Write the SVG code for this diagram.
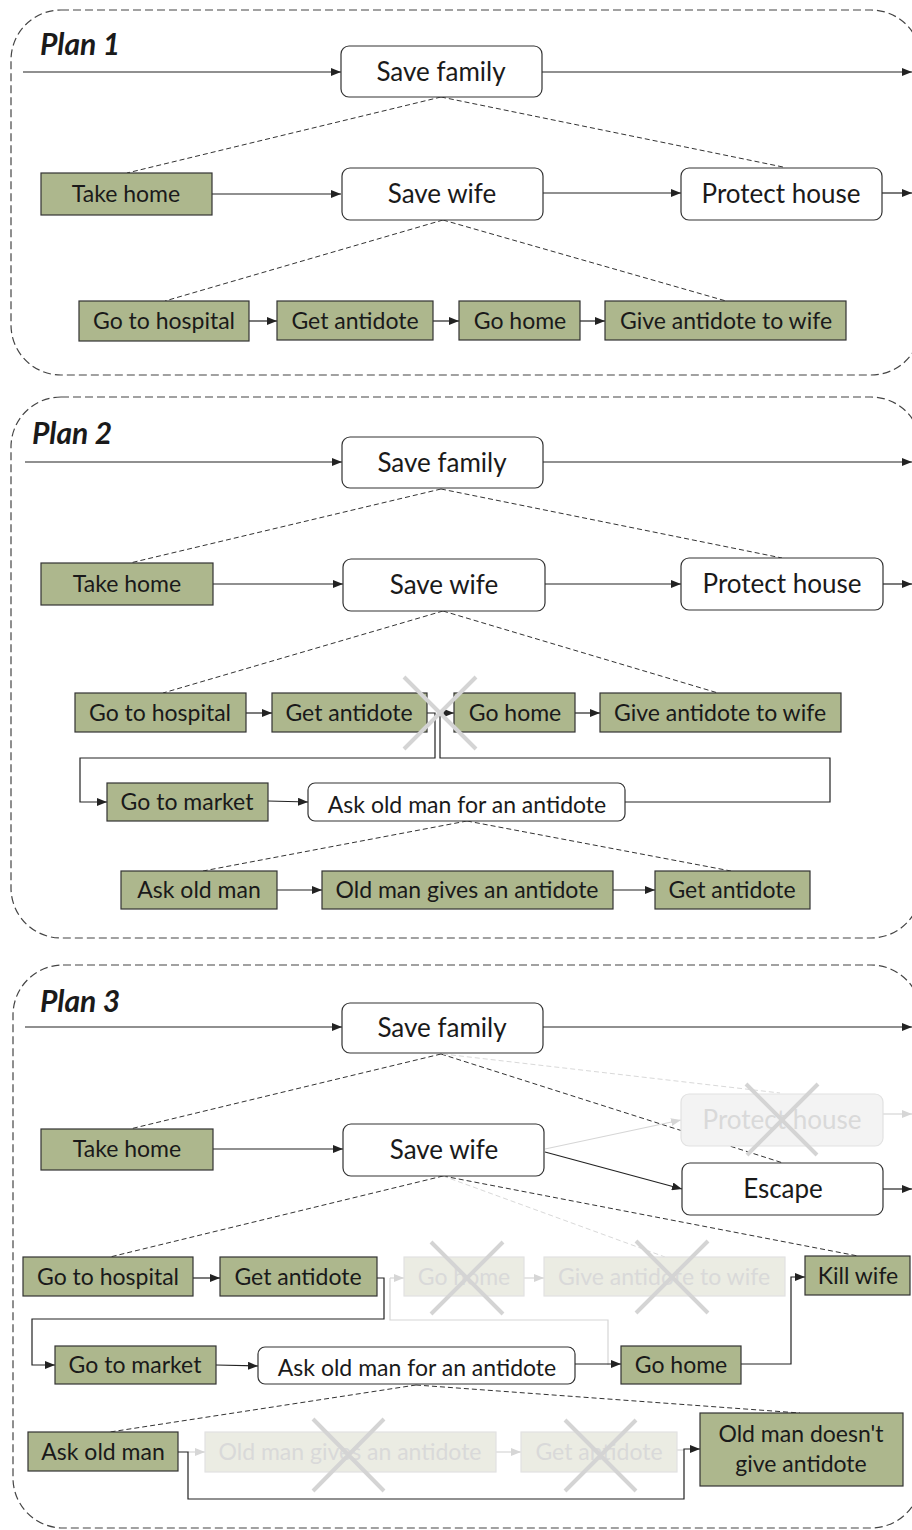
<svg xmlns="http://www.w3.org/2000/svg" width="912" height="1530" viewBox="0 0 912 1530">
<defs>
<marker id="ah" markerWidth="10" markerHeight="8" refX="10" refY="4" orient="auto" markerUnits="userSpaceOnUse"><path d="M0,0 L10,4 L0,8 z" fill="#222"/></marker>
<marker id="ahf" markerWidth="10" markerHeight="8" refX="10" refY="4" orient="auto" markerUnits="userSpaceOnUse"><path d="M0,0 L10,4 L0,8 z" fill="#d6d6d6"/></marker>
<style>
.plan{fill:none;stroke:#444;stroke-width:1.2;stroke-dasharray:8 4}
.title{font-family:Lato,"Open Sans",sans-serif;font-weight:bold;font-style:italic;font-size:30px;fill:#1a1a1a}
.w{fill:#fff;stroke:#333;stroke-width:1.2}
.g{fill:#adb78d;stroke:#333;stroke-width:1.2}
.fw{fill:#f3f3f3;stroke:#e2e2e2;stroke-width:1.2}
.fg{fill:#ebece3;stroke:#e2e2e2;stroke-width:1.2}
.t{font-family:Lato,"Open Sans",sans-serif;font-size:26px;fill:#1a1a1a;text-anchor:middle}
.ts{font-family:Lato,"Open Sans",sans-serif;font-size:23px;fill:#1a1a1a;text-anchor:middle}
.tf{font-family:Lato,"Open Sans",sans-serif;font-size:23px;fill:#d9d9d9;text-anchor:middle}
.c{fill:none;stroke:#222;stroke-width:1.2}
.ca{fill:none;stroke:#222;stroke-width:1.2;marker-end:url(#ah)}
.cf{fill:none;stroke:#d6d6d6;stroke-width:1.2}
.cfa{fill:none;stroke:#d6d6d6;stroke-width:1.2;marker-end:url(#ahf)}
.d{fill:none;stroke:#333;stroke-width:1;stroke-dasharray:5 3}
.df{fill:none;stroke:#d9d9d9;stroke-width:1;stroke-dasharray:5 3}
.x{stroke:#d4d4d4;stroke-width:4;fill:none}
</style>
</defs>

<!-- Plan frames -->
<g id="plan1-frame"><rect class="plan" x="11" y="10" width="910" height="365" rx="50"/><text class="title" x="40" y="55">Plan 1</text></g>
<g id="plan2-frame"><rect class="plan" x="11" y="397" width="910" height="541" rx="50"/><text class="title" x="32" y="444">Plan 2</text></g>
<g id="plan3-frame"><rect class="plan" x="13" y="965" width="908" height="563" rx="50"/><text class="title" x="40" y="1012">Plan 3</text></g>

<g id="connectors">
<!-- Plan 1 -->
<path class="ca" d="M23,72 H341"/>
<path class="ca" d="M542,72 H912"/>
<path class="d" d="M441,97 L127,173 M441,97 L783,167"/>
<path class="ca" d="M212,194 H341"/>
<path class="ca" d="M543,193 H681"/>
<path class="ca" d="M882,193 H912"/>
<path class="d" d="M443,220 L165,301 M443,220 L726,301"/>
<path class="ca" d="M249,321 H277"/>
<path class="ca" d="M433,321 H459"/>
<path class="ca" d="M580,321 H605"/>
<!-- Plan 2 -->
<path class="ca" d="M25,462 H342"/>
<path class="ca" d="M543,462 H912"/>
<path class="d" d="M441,489 L130,563 M441,489 L782,558"/>
<path class="ca" d="M213,584 H343"/>
<path class="ca" d="M545,584 H681"/>
<path class="ca" d="M883,584 H912"/>
<path class="d" d="M443,611 L163,693 M443,611 L718,693"/>
<path class="ca" d="M246,713 H272"/>
<path class="ca" d="M575,713 H600"/>
<path class="ca" d="M427,713 H435 V758 H80 V802 H107"/>
<path class="ca" d="M625,802 H830 V758 H440 V713 H454"/>
<path class="ca" d="M268,801 L308,802"/>
<path class="d" d="M467,821 L203,871 M467,821 L731,871"/>
<path class="ca" d="M277,890 H322"/>
<path class="ca" d="M613,890 H655"/>
<!-- Plan 3 -->
<path class="ca" d="M25,1027 H342"/>
<path class="ca" d="M543,1027 H912"/>
<path class="d" d="M441,1054 L130,1129 M441,1054 L783,1163"/>
<path class="df" d="M443,1054 L780,1093"/>
<path class="ca" d="M213,1149 H343"/>
<path class="cfa" d="M545,1149 L681,1120"/>
<path class="cfa" d="M883,1114 H912"/>
<path class="ca" d="M545,1152 L682,1189"/>
<path class="ca" d="M883,1189 H912"/>
<path class="d" d="M443,1176 L110,1257 M443,1176 L858,1256"/>
<path class="df" d="M443,1176 L665,1257"/>
<path class="ca" d="M193,1278 H220"/>
<path class="cfa" d="M524,1278 H544"/>
<path class="cf" d="M608,1365 V1320 H390 V1278"/>
<path class="cfa" d="M390,1278 H404"/>
<path class="ca" d="M377,1278 H384 V1319 H32 V1365 H55"/>
<path class="ca" d="M216,1365 L258,1366"/>
<path class="ca" d="M575,1364 H621"/>
<path class="ca" d="M741,1364 H791 V1277 H805"/>
<path class="d" d="M416,1385 L110,1432 M416,1385 L800,1413"/>
<path class="cfa" d="M188,1452 H205"/>
<path class="cfa" d="M496,1452 H521"/>
<path class="cf" d="M677,1450 H684"/>
<path class="ca" d="M178,1452 H188 V1499 H684 V1449 H700"/>
</g>

<!-- Plan 1 nodes -->
<g id="p1-save-family"><rect class="w" x="341" y="46" width="201" height="51" rx="8"/><text class="t" x="441" y="81">Save family</text></g>
<g id="p1-take-home"><rect class="g" x="41" y="173" width="171" height="42"/><text class="ts" x="126" y="202">Take home</text></g>
<g id="p1-save-wife"><rect class="w" x="342" y="168" width="201" height="52" rx="8"/><text class="t" x="442" y="203">Save wife</text></g>
<g id="p1-protect-house"><rect class="w" x="681" y="168" width="201" height="52" rx="8"/><text class="t" x="781" y="203">Protect house</text></g>
<g id="p1-go-hospital"><rect class="g" x="79" y="301" width="170" height="40"/><text class="ts" x="164" y="329">Go to hospital</text></g>
<g id="p1-get-antidote"><rect class="g" x="277" y="301" width="156" height="39"/><text class="ts" x="355" y="329">Get antidote</text></g>
<g id="p1-go-home"><rect class="g" x="459" y="301" width="121" height="39"/><text class="ts" x="520" y="329">Go home</text></g>
<g id="p1-give-antidote"><rect class="g" x="605" y="301" width="241" height="39"/><text class="ts" x="726" y="329">Give antidote to wife</text></g>

<!-- Plan 2 nodes -->
<g id="p2-save-family"><rect class="w" x="342" y="437" width="201" height="51" rx="8"/><text class="t" x="442" y="472">Save family</text></g>
<g id="p2-take-home"><rect class="g" x="41" y="563" width="172" height="42"/><text class="ts" x="127" y="592">Take home</text></g>
<g id="p2-save-wife"><rect class="w" x="343" y="559" width="202" height="52" rx="8"/><text class="t" x="444" y="594">Save wife</text></g>
<g id="p2-protect-house"><rect class="w" x="681" y="558" width="202" height="52" rx="8"/><text class="t" x="782" y="593">Protect house</text></g>
<g id="p2-go-hospital"><rect class="g" x="75" y="693" width="171" height="39"/><text class="ts" x="160" y="721">Go to hospital</text></g>
<g id="p2-get-antidote"><rect class="g" x="272" y="693" width="155" height="39"/><text class="ts" x="349" y="721">Get antidote</text></g>
<g id="p2-go-home"><rect class="g" x="454" y="693" width="121" height="39"/><text class="ts" x="515" y="721">Go home</text></g>
<g id="p2-give-antidote"><rect class="g" x="600" y="693" width="241" height="39"/><text class="ts" x="720" y="721">Give antidote to wife</text></g>
<g id="p2-go-market"><rect class="g" x="107" y="783" width="161" height="38"/><text class="ts" x="187" y="810">Go to market</text></g>
<g id="p2-ask-old-man-for"><rect class="w" x="308" y="783" width="317" height="38" rx="7"/><text class="ts" x="467" y="813">Ask old man for an antidote</text></g>
<g id="p2-ask-old-man"><rect class="g" x="121" y="871" width="156" height="38"/><text class="ts" x="199" y="898">Ask old man</text></g>
<g id="p2-old-man-gives"><rect class="g" x="322" y="871" width="291" height="38"/><text class="ts" x="467" y="898">Old man gives an antidote</text></g>
<g id="p2-get-antidote2"><rect class="g" x="655" y="871" width="155" height="38"/><text class="ts" x="732" y="898">Get antidote</text></g>
<g id="p2-cross"><path class="x" d="M404,677 L476,749 M476,677 L404,749"/></g>

<!-- Plan 3 nodes -->
<g id="p3-save-family"><rect class="w" x="342" y="1003" width="201" height="50" rx="8"/><text class="t" x="442" y="1037">Save family</text></g>
<g id="p3-take-home"><rect class="g" x="41" y="1129" width="172" height="41"/><text class="ts" x="127" y="1157">Take home</text></g>
<g id="p3-save-wife"><rect class="w" x="343" y="1124" width="201" height="52" rx="8"/><text class="t" x="444" y="1159">Save wife</text></g>
<g id="p3-protect-house"><rect class="fw" x="681" y="1094" width="202" height="52" rx="8"/><text class="tf" x="782" y="1129" style="font-size:26px">Protect house</text><path class="x" d="M746,1084 L817,1155 M818,1084 L747,1155"/></g>
<g id="p3-escape"><rect class="w" x="682" y="1163" width="201" height="52" rx="8"/><text class="t" x="783" y="1198">Escape</text></g>
<g id="p3-go-hospital"><rect class="g" x="23" y="1257" width="170" height="39"/><text class="ts" x="108" y="1285">Go to hospital</text></g>
<g id="p3-get-antidote"><rect class="g" x="220" y="1257" width="157" height="39"/><text class="ts" x="298" y="1285">Get antidote</text></g>
<g id="p3-go-home-faded"><rect class="fg" x="404" y="1257" width="120" height="39"/><text class="tf" x="464" y="1285">Go home</text><path class="x" d="M431,1242 L503,1314 M503,1242 L431,1314"/></g>
<g id="p3-give-antidote-faded"><rect class="fg" x="544" y="1257" width="241" height="39"/><text class="tf" x="664" y="1285">Give antidote to wife</text><path class="x" d="M636,1241 L708,1313 M708,1241 L636,1313"/></g>
<g id="p3-kill-wife"><rect class="g" x="805" y="1256" width="105" height="39"/><text class="ts" x="858" y="1284">Kill wife</text></g>
<g id="p3-go-market"><rect class="g" x="55" y="1346" width="161" height="38"/><text class="ts" x="135" y="1373">Go to market</text></g>
<g id="p3-ask-old-man-for"><rect class="w" x="258" y="1347" width="317" height="37" rx="7"/><text class="ts" x="417" y="1376">Ask old man for an antidote</text></g>
<g id="p3-go-home"><rect class="g" x="621" y="1346" width="120" height="38"/><text class="ts" x="681" y="1373">Go home</text></g>
<g id="p3-ask-old-man"><rect class="g" x="28" y="1432" width="150" height="39"/><text class="ts" x="103" y="1460">Ask old man</text></g>
<g id="p3-old-man-gives-faded"><rect class="fg" x="205" y="1432" width="291" height="40"/><text class="tf" x="350" y="1460">Old man gives an antidote</text><path class="x" d="M313,1419 L384,1491 M384,1419 L313,1491"/></g>
<g id="p3-get-antidote-faded"><rect class="fg" x="521" y="1432" width="156" height="40"/><text class="tf" x="599" y="1460">Get antidote</text><path class="x" d="M565,1420 L636,1491 M636,1420 L565,1491"/></g>
<g id="p3-old-man-doesnt"><rect class="g" x="700" y="1413" width="203" height="73"/><text class="ts" x="801" y="1442">Old man doesn't</text><text class="ts" x="801" y="1472">give antidote</text></g>
</svg>
